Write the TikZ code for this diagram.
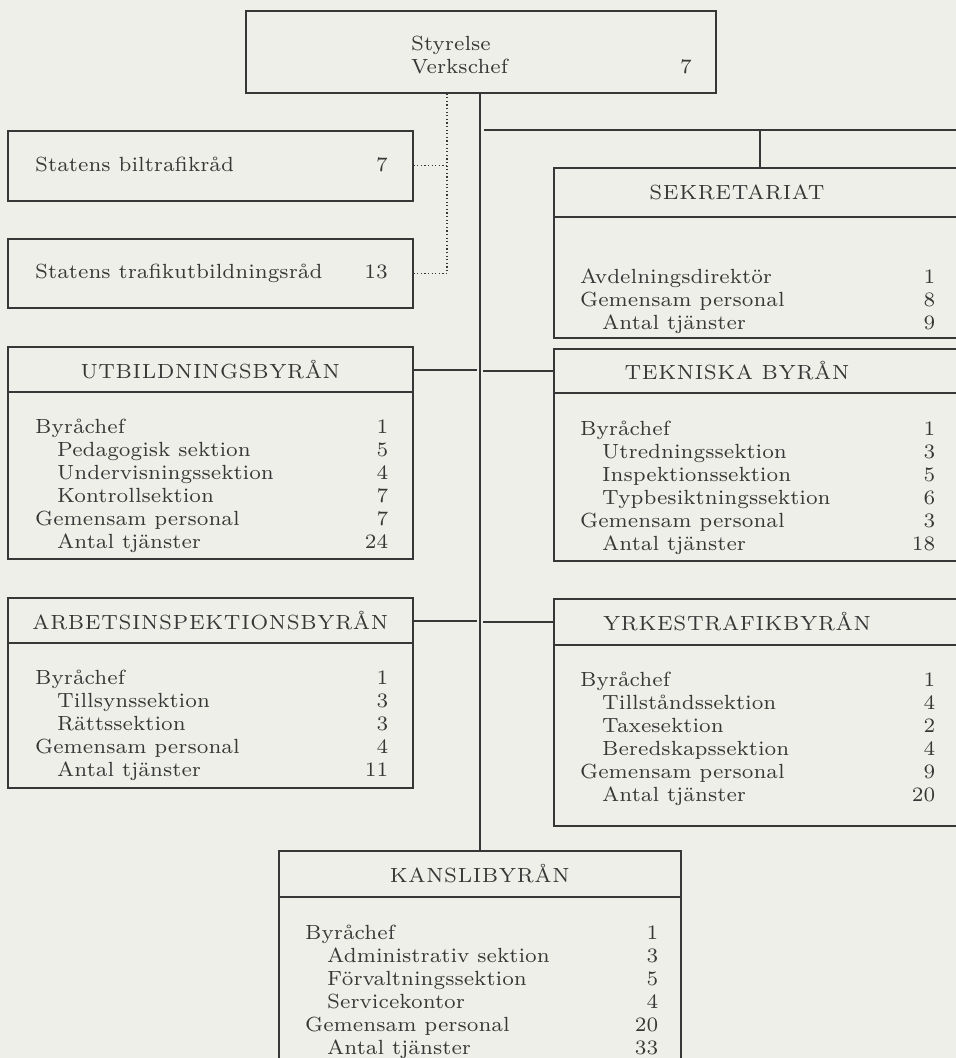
\documentclass[tikz,border=0pt]{standalone}
\usepackage{fontspec}

\definecolor{paper}{RGB}{239,239,233}
\definecolor{ink}{RGB}{55,55,55}
\newfontfamily\scanfont{lmroman7-regular.otf}
\newcommand{\bodyfont}{\scanfont\fontsize{20.5}{23}\selectfont}
\newcommand{\headfont}{\scanfont\fontsize{20.5}{23}\selectfont\addfontfeature{LetterSpace=3}}
\newcommand{\ind}{\hspace*{22pt}}
\newcommand{\rows}[2][353pt]{\begin{tabular*}{#1}[t]{@{}l@{\extracolsep{\fill}}r@{}}#2\end{tabular*}}

\begin{document}
\begin{tikzpicture}[
    x=1pt, y=-1pt,
    unitbox/.style={draw=ink, line width=1.5pt, rectangle, anchor=north west, inner sep=0pt},
    head/.style={text=ink, font=\headfont, inner sep=0pt},
    body/.style={text=ink, font=\bodyfont, inner sep=0pt, anchor=base west},
    num/.style={body, anchor=base east},
    link/.style={draw=ink, line width=1.5pt},
    dots/.style={draw=ink, line width=1.2pt, dash pattern=on 1.2pt off 2.4pt}
    ]
    \useasboundingbox (0,0) rectangle (956,1058);
    \clip (0,0) rectangle (956,1058);
    \fill[paper] (0,0) rectangle (956,1058);

    % ledning
    \node[unitbox, minimum width=470, minimum height=82] (styr) at (245,10) {};
    \node[body] (styrt) at (411,50) {\begin{tabular}[t]{@{}l@{}}Styrelse\\Verkschef\end{tabular}};
    \node[num] (styrn) at (692,73) {7};

    % råd
    \node[unitbox, minimum width=405, minimum height=70] (bil) at (7,130) {};
    \node[body] (bilt) at (35,171) {Statens biltrafikråd};
    \node[num] (biln) at (388,171) {7};
    \node[unitbox, minimum width=405, minimum height=69] (traf) at (7,238) {};
    \node[body] (traft) at (35,278) {Statens trafikutbildningsråd};
    \node[num] (trafn) at (388,278) {13};

    % sekretariat
    \node[unitbox, minimum width=412, minimum height=170] (sek) at (553,167) {};
    \node[head] (sekh) at (737,192) {SEKRETARIAT};
    \draw[link] (sek.west |- 0,217) -- (sek.east |- 0,217);
    \node[body] (sekb) at (580,283) {\rows[355pt]{Avdelningsdirektör & 1\\
      Gemensam personal & 8\\
      \ind Antal tjänster & 9}};

    % byråer, vänster
    \node[unitbox, minimum width=405, minimum height=212] (utb) at (7,346) {};
    \node[head] (utbh) at (utb.north |- 0,370) {UTBILDNINGSBYRÅN};
    \draw[link] (utb.west |- 0,392) -- (utb.east |- 0,392);
    \node[body] (utbb) at (35,433) {\rows{Byråchef & 1\\
      \ind Pedagogisk sektion & 5\\
      \ind Undervisningssektion & 4\\
      \ind Kontrollsektion & 7\\
      Gemensam personal & 7\\
      \ind Antal tjänster & 24}};

    \node[unitbox, minimum width=405, minimum height=190] (arb) at (7,597) {};
    \node[head] (arbh) at (arb.north |- 0,621) {ARBETSINSPEKTIONSBYRÅN};
    \draw[link] (arb.west |- 0,643) -- (arb.east |- 0,643);
    \node[body] (arbb) at (35,684) {\rows{Byråchef & 1\\
      \ind Tillsynssektion & 3\\
      \ind Rättssektion & 3\\
      Gemensam personal & 4\\
      \ind Antal tjänster & 11}};

    % byråer, höger
    \node[unitbox, minimum width=412, minimum height=212] (tek) at (553,348) {};
    \node[head] (tekh) at (737,371) {TEKNISKA BYRÅN};
    \draw[link] (tek.west |- 0,393) -- (tek.east |- 0,393);
    \node[body] (tekb) at (580,435) {\rows[355pt]{Byråchef & 1\\
      \ind Utredningssektion & 3\\
      \ind Inspektionssektion & 5\\
      \ind Typbesiktningssektion & 6\\
      Gemensam personal & 3\\
      \ind Antal tjänster & 18}};

    \node[unitbox, minimum width=412, minimum height=227] (yrk) at (553,598) {};
    \node[head] (yrkh) at (737,622) {YRKESTRAFIKBYRÅN};
    \draw[link] (yrk.west |- 0,645) -- (yrk.east |- 0,645);
    \node[body] (yrkb) at (580,686) {\rows[355pt]{Byråchef & 1\\
      \ind Tillståndssektion & 4\\
      \ind Taxesektion & 2\\
      \ind Beredskapssektion & 4\\
      Gemensam personal & 9\\
      \ind Antal tjänster & 20}};

    % kansli
    \node[unitbox, minimum width=402, minimum height=230] (kan) at (278,850) {};
    \node[head] (kanh) at (kan.north |- 0,874) {KANSLIBYRÅN};
    \draw[link] (kan.west |- 0,897) -- (kan.east |- 0,897);
    \node[body] (kanb) at (305,939) {\rows{Byråchef & 1\\
      \ind Administrativ sektion & 3\\
      \ind Förvaltningssektion & 5\\
      \ind Servicekontor & 4\\
      Gemensam personal & 20\\
      \ind Antal tjänster & 33}};

    % linjer
    \coordinate (dv) at (447,272);
    \coordinate (sekl) at (956,130);
    \draw[link] (styr.south -| kan.north) -- (kan.north);
    \draw[dots] (styr.south -| dv) -- (dv);
    \draw[dots] (bil.east) -- (bil.east -| dv);
    \draw[dots] (traf.east) -- (traf.east -| dv);
    \draw[link, shorten <=4pt] (sekl -| kan.north) -- (sekl);
    \draw[link] (sek.north |- sekl) -- (sek.north);
    \draw[link, shorten >=3pt] (utb.east |- utbh) -- (utbh -| kan.north);
    \draw[link, shorten >=3pt] (tek.west |- tekh) -- (tekh -| kan.north);
    \draw[link, shorten >=3pt] (arb.east |- arbh) -- (arbh -| kan.north);
    \draw[link, shorten >=3pt] (yrk.west |- yrkh) -- (yrkh -| kan.north);
\end{tikzpicture}
\end{document}
